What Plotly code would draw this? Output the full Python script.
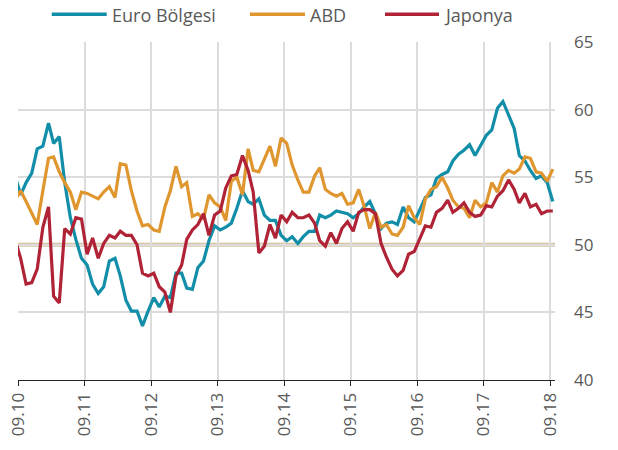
import pandas as pd
import plotly.graph_objects as go

# Monthly data, Aug 2010 .. Sep 2018 (mid-month dates)
months = [(d + pd.Timedelta(days=14)).strftime("%Y-%m-%d")
          for d in pd.date_range("2010-08-01", "2018-09-01", freq="MS")]

euro = [55.1, 53.7, 54.6, 55.3, 57.1,
        57.3, 59.0, 57.5, 58.0, 54.6, 52.0, 50.4, 49.0, 48.5, 47.1, 46.4, 46.9,
        48.8, 49.0, 47.7, 45.9, 45.1, 45.1, 44.0, 45.1, 46.1, 45.4, 46.2, 46.1,
        47.9, 47.9, 46.8, 46.7, 48.3, 48.8, 50.3, 51.4, 51.1, 51.3, 51.6, 52.7,
        54.0, 53.2, 53.0, 53.4, 52.2, 51.8, 51.8, 50.7, 50.3, 50.6, 50.1, 50.6,
        51.0, 51.0, 52.2, 52.0, 52.2, 52.5, 52.4, 52.3, 52.0, 52.3, 52.8, 53.2,
        52.3, 51.2, 51.6, 51.7, 51.5, 52.8, 52.0, 51.7, 52.6, 53.5, 53.7, 54.9,
        55.2, 55.4, 56.2, 56.7, 57.0, 57.4, 56.6, 57.4, 58.1, 58.5, 60.1, 60.6,
        59.6, 58.6, 56.6, 56.2, 55.5, 54.9, 55.1, 54.6, 53.2]

abd = [53.3, 54.0, 53.2, 52.3, 51.5,
       54.0, 56.4, 56.5, 55.4, 54.6, 53.9, 52.6, 53.9, 53.8, 53.6, 53.4, 53.9,
       54.3, 53.5, 56.0, 55.9, 54.0, 52.5, 51.4, 51.5, 51.1, 51.0, 52.8, 54.0,
       55.8, 54.3, 54.6, 52.1, 52.3, 51.9, 53.7, 53.1, 52.8, 51.8, 54.7, 55.0,
       53.7, 57.1, 55.5, 55.4, 56.4, 57.3, 55.8, 57.9, 57.5, 55.9, 54.8, 53.9,
       53.9, 55.1, 55.7, 54.1, 53.8, 53.6, 53.8, 53.0, 53.1, 54.1, 52.8, 51.2,
       52.4, 51.3, 51.5, 50.8, 50.7, 51.3, 52.9, 52.0, 51.5, 53.4, 54.1, 54.3,
       55.0, 54.2, 53.3, 52.8, 52.7, 52.0, 53.3, 52.8, 53.1, 54.6, 53.9, 55.1,
       55.5, 55.3, 55.6, 56.5, 56.4, 55.4, 55.3, 54.7, 55.6]

japonya = [50.4, 49.0, 47.1, 47.2, 48.2,
           51.3, 52.8, 46.2, 45.7, 51.2, 50.8, 52.0, 51.9, 49.3, 50.5, 49.0, 50.1,
           50.7, 50.5, 51.0, 50.7, 50.7, 50.0, 47.9, 47.7, 47.9, 46.9, 46.5, 45.0,
           47.7, 48.5, 50.4, 51.1, 51.5, 52.3, 50.7, 52.2, 52.5, 54.2, 55.1, 55.2,
           56.6, 55.5, 53.9, 49.4, 49.9, 51.5, 50.5, 52.2, 51.7, 52.4, 52.0, 52.0,
           52.2, 51.6, 50.3, 49.9, 50.9, 50.1, 51.2, 51.7, 51.0, 52.4, 52.6, 52.6,
           52.3, 50.1, 49.1, 48.2, 47.7, 48.1, 49.3, 49.5, 50.4, 51.4, 51.3, 52.4,
           52.7, 53.3, 52.4, 52.7, 53.1, 52.4, 52.1, 52.2, 52.9, 52.8, 53.6, 54.0,
           54.8, 54.1, 53.1, 53.8, 52.8, 53.0, 52.3, 52.5, 52.5]

series_names = ["Euro Bölgesi", "ABD", "Japonya"]
series_colors = ["#128ea8", "#e0962f", "#b02336"]
threshold = 50
tick_dates = ["2010-09-01", "2011-09-01", "2012-09-01", "2013-09-01", "2014-09-01",
              "2015-09-01", "2016-09-01", "2017-09-01", "2018-09-01"]
tick_labels = ["09.10", "09.11", "09.12", "09.13", "09.14",
               "09.15", "09.16", "09.17", "09.18"]

W, H = 618, 450
L, R, T, B = 18, 555, 42, 380
FONT = "Open Sans"
GRAY = "#595959"
LEG_Y = 15

def px_x(p):
    return (p - L) / (R - L)

def px_y(p):
    return (B - p) / (B - T)

fig = go.Figure()
for name, vals, col in zip(series_names, [euro, abd, japonya], series_colors):
    fig.add_trace(go.Scatter(x=months, y=vals, mode="lines", name=name,
                             line=dict(color=col, width=3.2), showlegend=False,
                             hoverinfo="skip"))

# 50 reference line
fig.add_shape(type="line", xref="paper", yref="y", x0=0, x1=1, y0=threshold, y1=threshold,
              line=dict(color="#d8c3a0", width=4), layer="between")

# custom legend
leg_items = [(51.7, 106.7, 110), (250, 305, 308), (385, 439, 442)]
for (a, b, t), name, col in zip(leg_items, series_names, series_colors):
    fig.add_shape(type="line", xref="paper", yref="paper", x0=px_x(a), x1=px_x(b),
                  y0=px_y(14.3), y1=px_y(14.3), line=dict(color=col, width=3.5))
    fig.add_annotation(xref="paper", yref="paper", x=px_x(t), y=px_y(LEG_Y), text=name,
                       showarrow=False, xanchor="left", yanchor="middle",
                       font=dict(family=FONT, size=18, color=GRAY))

fig.update_layout(
    width=W, height=H,
    margin=dict(l=L, r=W - R, t=T, b=H - B, autoexpand=False),
    paper_bgcolor="white", plot_bgcolor="white",
    showlegend=False,
    font=dict(family=FONT, color=GRAY),
)
fig.update_xaxes(type="date", range=["2010-08-31 12:00", "2018-09-27"],
                 tickmode="array", tickvals=tick_dates, ticktext=tick_labels,
                 tickangle=-90, tickfont=dict(family=FONT, size=17, color=GRAY),
                 ticklabeloverflow="allow",
                 showgrid=True, gridcolor="#dcdcdc", gridwidth=1.5,
                 showline=True, linecolor="#262626", linewidth=1,
                 ticks="outside", ticklen=5, tickcolor="#262626", tickwidth=1,
                 zeroline=False, automargin=False)
fig.update_yaxes(range=[40, 65], dtick=5, side="right",
                 tickfont=dict(family=FONT, size=17, color=GRAY),
                 showgrid=True, gridcolor="#dcdcdc", gridwidth=1.5,
                 showline=False, ticks="", ticklabelstandoff=18, zeroline=False,
                 automargin=False)

# remove the browser's default page margin so the 618x450 figure fills the window
fig.write_html("out.html", config={"displayModeBar": False},
               post_script="document.body.style.margin='0';")
